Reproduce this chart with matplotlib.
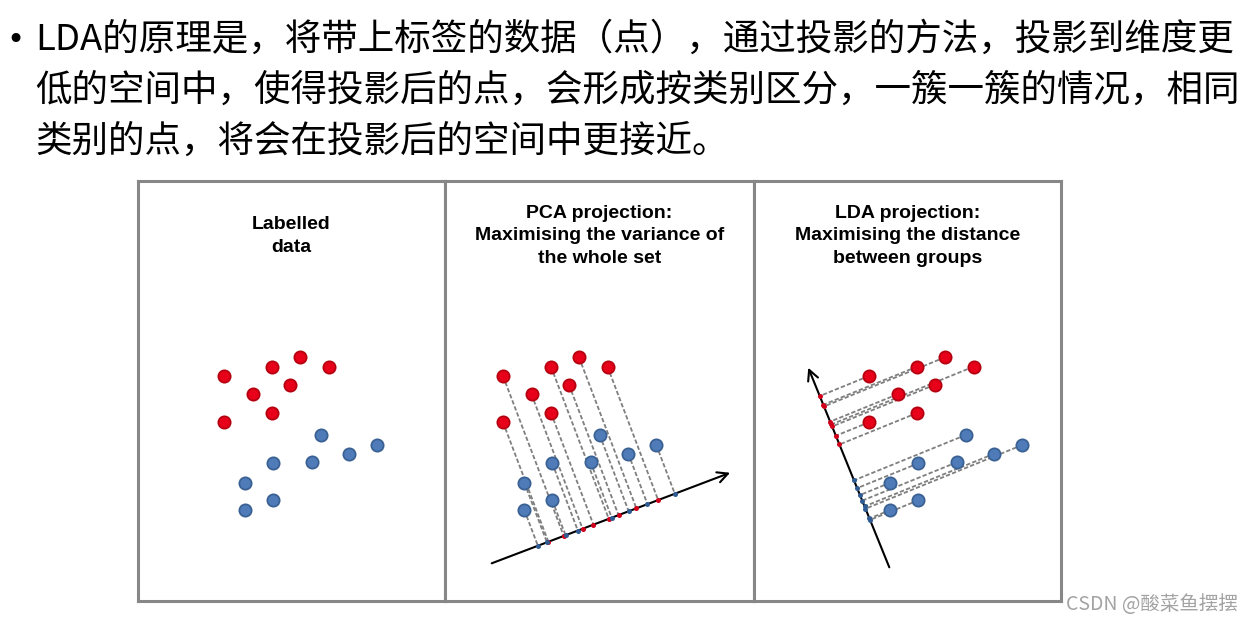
import numpy as np
import matplotlib
matplotlib.use("Agg")
import matplotlib.pyplot as plt

# ---------------- data (pixel-like units, y up) ----------------
red_x = [0, 48, 76, 104.5, 66, 28.5, 48, 0]
red_y = [134, 143.3, 152.7, 143.3, 125.3, 115.7, 97, 87.7]
blue_x = [96.7, 153.3, 125.3, 87.7, 49.3, 21.3, 49.3, 21.3]
blue_y = [75, 65, 56.3, 47.7, 46.7, 27.3, 9.7, 0]

panel_titles = [
    "Labelled\ndata",
    "PCA projection:\nMaximising the variance of\nthe whole set",
    "LDA projection:\nMaximising the distance\nbetween groups",
]

# projection axes: anchor point, angle (deg), length
pca_anchor = (-11.3, -53.3)
pca_angle = 20.8
pca_length = 255.0
lda_anchor = (20.3, -57.3)
lda_angle = 112.1
lda_length = 215.4

text_lines = [
    "LDA的原理是，将带上标签的数据（点），通过投影的方法，投影到维度更",
    "低的空间中，使得投影后的点，会形成按类别区分，一簇一簇的情况，相同",
    "类别的点，将会在投影后的空间中更接近。",
]
watermark = "CSDN @酸菜鱼摆摆"

# ---------------- styling ----------------
W, H = 1252, 623
RED, RED_EDGE = "#e8001a", "#b5000f"
BLUE, BLUE_EDGE = "#4f7cb8", "#3a6193"
RED_SMALL, BLUE_SMALL = "#d0001a", "#2f5b92"
BORDER = "#878787"
CJK = ["Noto Sans CJK SC", "DejaVu Sans"]

fig = plt.figure(figsize=(W / 100, H / 100), dpi=100)
fig.patch.set_facecolor("white")

panel_lr = [(137.5, 444.5), (444.5, 754.0), (754.0, 1060.5)]
panel_top, panel_bot = 181.0, 600.5
origin_px = [224.0, 503.0, 869.0]
origin_py = 510.0

red_pts = np.column_stack([red_x, red_y])
blue_pts = np.column_stack([blue_x, blue_y])


def project(pts, anchor, angle):
    a = np.asarray(anchor)
    u = np.array([np.cos(np.radians(angle)), np.sin(np.radians(angle))])
    t = (pts - a) @ u
    return a + np.outer(t, u)


axes = []
for i, (l, r) in enumerate(panel_lr):
    ax = fig.add_axes([l / W, (H - panel_bot) / H, (r - l) / W, (panel_bot - panel_top) / H])
    ax.set_xlim(l - origin_px[i], r - origin_px[i])
    ax.set_ylim(origin_py - panel_bot, origin_py - panel_top)
    ax.set_xticks([])
    ax.set_yticks([])
    for s in ax.spines.values():
        s.set_color(BORDER)
        s.set_linewidth(2.2)
    ax.text(0.5, (panel_bot - 236) / (panel_bot - panel_top), panel_titles[i],
            transform=ax.transAxes, ha="center", va="center", multialignment="center",
            family="Liberation Sans", fontweight="bold", fontsize=14.0, linespacing=1.4)
    axes.append(ax)

for ax, proj in zip(axes[1:], [(pca_anchor, pca_angle, pca_length), (lda_anchor, lda_angle, lda_length)]):
    anchor, angle, length = proj
    u = np.array([np.cos(np.radians(angle)), np.sin(np.radians(angle))])
    start = np.asarray(anchor)
    tip = start + length * u
    rp = project(red_pts, anchor, angle)
    bp = project(blue_pts, anchor, angle)
    for pts, pr in [(red_pts, rp), (blue_pts, bp)]:
        for p, q in zip(pts, pr):
            ax.plot([p[0], q[0]], [p[1], q[1]], color="#7f7f7f", lw=1.3,
                    dashes=(2.4, 1.2), zorder=2)
    ax.annotate("", xy=tip, xytext=start,
                arrowprops=dict(arrowstyle="->,head_length=0.75,head_width=0.38",
                                lw=1.5, color="black", shrinkA=0, shrinkB=0),
                zorder=3)
    ax.plot(rp[:, 0], rp[:, 1], "o", ms=3.6, color=RED_SMALL, mec="none", zorder=4)
    ax.plot(bp[:, 0], bp[:, 1], "o", ms=3.6, color=BLUE_SMALL, mec="none", zorder=4)

for ax in axes:
    ax.plot(red_x, red_y, "o", ms=8.8, color=RED, mec=RED_EDGE, mew=1.3, zorder=5)
    ax.plot(blue_x, blue_y, "o", ms=8.8, color=BLUE, mec=BLUE_EDGE, mew=1.3, zorder=5)

# heading text
fig.text(6 / W, 1 - 40 / H, "•", family="DejaVu Sans", fontsize=22, va="center", ha="left")
for k, line in enumerate(text_lines):
    fig.text(35 / W, 1 - (40 + 51 * k) / H, line, family=CJK, fontsize=26.3,
             va="center", ha="left", color="black")

fig.text(1066 / W, 1 - 604 / H, watermark, family=CJK, fontsize=14, va="center",
         ha="left", color="#a3a3a3")

fig.savefig("out.png", dpi=100, facecolor="white")
